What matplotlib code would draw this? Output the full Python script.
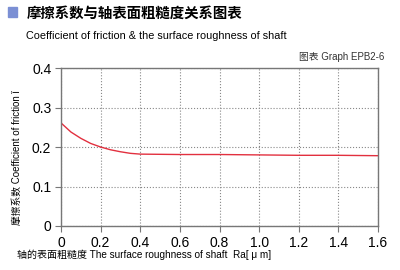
import matplotlib
matplotlib.use("Agg")
import matplotlib.pyplot as plt
from matplotlib.patches import Rectangle

plt.rcParams['font.family'] = ['Liberation Sans', 'Noto Sans CJK SC', 'DejaVu Sans']

# 表面粗糙度 Ra [μm] 与摩擦系数
roughness = [0, 0.05, 0.1, 0.15, 0.2, 0.25, 0.3, 0.35, 0.4, 0.6, 0.8, 1.0, 1.2, 1.4, 1.6]
friction = [0.261, 0.238, 0.222, 0.209, 0.200, 0.193, 0.188, 0.184, 0.182,
            0.181, 0.181, 0.180, 0.179, 0.179, 0.178]

xticks = [0, 0.2, 0.4, 0.6, 0.8, 1.0, 1.2, 1.4, 1.6]
xticklabels = ['0', '0.2', '0.4', '0.6', '0.8', '1.0', '1.2', '1.4', '1.6']
yticks = [0, 0.1, 0.2, 0.3, 0.4]
yticklabels = ['0', '0.1', '0.2', '0.3', '0.4']

fig = plt.figure(figsize=(4, 2.7), dpi=100)
ax = fig.add_axes([0.1525, 0.163, 0.7925, 0.585])

ax.plot(roughness, friction, color='#e2303f', lw=1.0)

ax.set_xlim(0, 1.6)
ax.set_ylim(0, 0.4)
ax.set_xticks(xticks)
ax.set_xticklabels(xticklabels, fontsize=10)
ax.set_yticks(yticks)
ax.set_yticklabels(yticklabels, fontsize=10)
ax.tick_params(length=4, color='#777777', width=0.8, pad=3)
ax.grid(True, ls=':', color='#888888', lw=0.8)
for s in ax.spines.values():
    s.set_color('#777777')
    s.set_linewidth(1.0)

fig.text(0.042, 0.415, '摩擦系数 Coefficient of friction ǐ', fontsize=7, rotation=90,
         ha='center', va='center')
fig.text(0.042, 0.045, '轴的表面粗糙度 The surface roughness of shaft  Ra[ μ m]', fontsize=7.2)

# 标题
fig.patches.append(Rectangle((0.02, 0.937), 0.023, 0.037, transform=fig.transFigure,
                             color='#7b8fd4'))
fig.text(0.066, 0.950, '摩擦系数与轴表面粗糙度关系图表', fontsize=10.4, fontweight='bold',
         va='center', family=['Noto Sans CJK SC'])
fig.text(0.066, 0.868, 'Coefficient of friction & the surface roughness of shaft',
         fontsize=7.8, va='center', color='black')
fig.text(0.962, 0.788, '图表 Graph EPB2-6', fontsize=7, ha='right', va='center',
         color='#333333')

fig.savefig('out.png', dpi=100)
